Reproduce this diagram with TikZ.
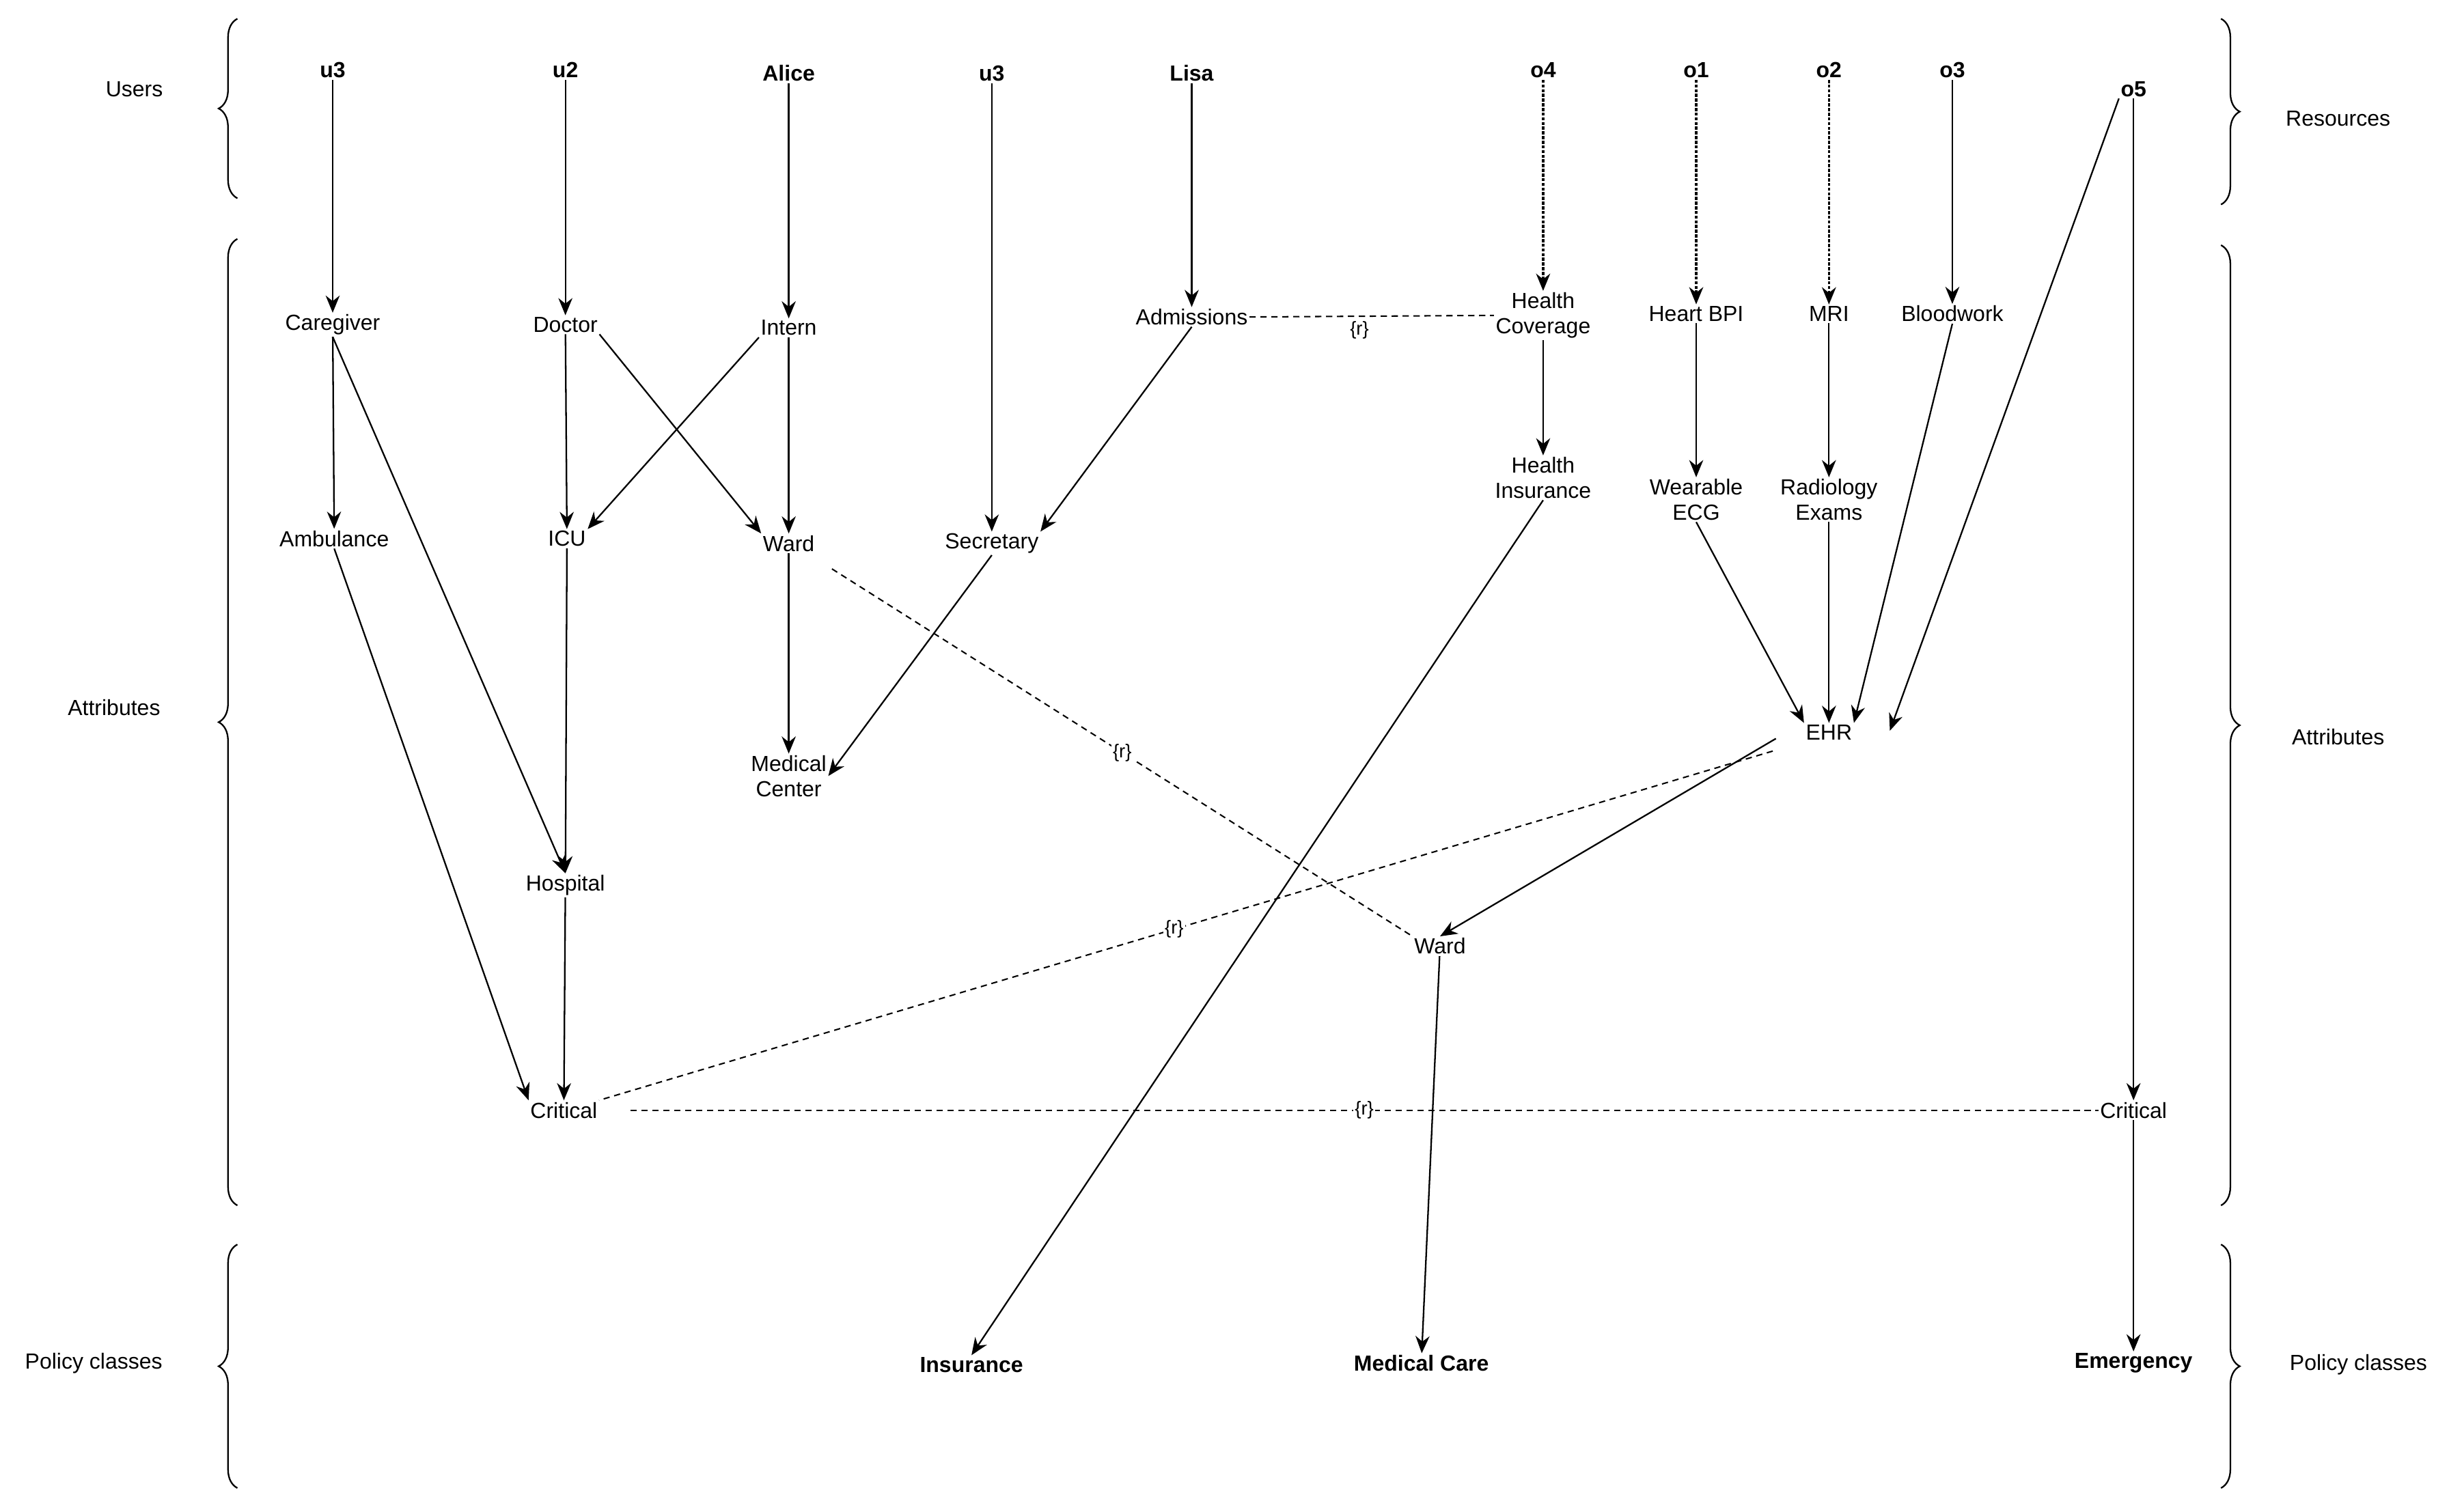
\documentclass[tikz,border=0pt]{standalone}
\usepackage{fontspec}
\setmainfont{Liberation Sans}
\usetikzlibrary{arrows.meta,decorations.pathreplacing}
\begin{document}
\begin{tikzpicture}[x=1pt,y=-1pt,
  every node/.style={font=\fontsize{14}{16}\selectfont, align=center, inner sep=1pt},
  b/.style={font=\fontsize{14}{16}\selectfont\bfseries},
  ar/.style={draw, line width=1pt, -{Stealth[length=11pt,width=9pt]}},
  dar/.style={ar, line width=1.4pt, dash pattern=on 2pt off 1pt},
  dl/.style={draw, line width=0.9pt, dash pattern=on 4pt off 3pt},
  r/.style={font=\fontsize{12}{14}\selectfont, fill=white, inner sep=1pt},
  br/.style={draw, line width=1pt, decorate, decoration={brace, amplitude=12pt}}]
\useasboundingbox (0,0) rectangle (1568,968);
% braces
\draw[br] (152,127) -- (152,12);
\draw[br] (152,772) -- (152,153);
\draw[br] (152,953) -- (152,797);
\draw[br] (1422,12) -- (1422,131);
\draw[br] (1422,157) -- (1422,772);
\draw[br] (1422,797) -- (1422,953);
\node (lu) at (86,57) {Users};
\node (la) at (73,453) {Attributes};
\node (lp) at (60,873) {Policy classes};
\node (rr) at (1497,76) {Resources};
\node (ra) at (1497,472) {Attributes};
\node (rp) at (1510,874) {Policy classes};
% users/resources
\node[b] (u3a) at (213,45) {u3};
\node[b] (u2) at (362,45) {u2};
\node[b] (alice) at (505,47) {Alice};
\node[b] (u3b) at (635,47) {u3};
\node[b] (lisa) at (763,47) {Lisa};
\node[b] (o4) at (988,45) {o4};
\node[b] (o1) at (1086,45) {o1};
\node[b] (o2) at (1171,45) {o2};
\node[b] (o3) at (1250,45) {o3};
\node[b] (o5) at (1366,57) {o5};
% attributes
\node (care) at (213,208) {Caregiver};
\node (doc) at (362,208) {Doctor};
\node (intern) at (505,210) {Intern};
\node (adm) at (763,203) {Admissions};
\node (hcov) at (988,202) {Health\\Coverage};
\node (hbpi) at (1086,201) {Heart BPI};
\node (mri) at (1171,201) {MRI};
\node (blood) at (1250,201) {Bloodwork};
\node (amb) at (214,345) {Ambulance};
\node (icu) at (363,345) {ICU};
\node (ward1) at (505,348) {Ward};
\node (sec) at (635,348) {Secretary};
\node (hins) at (988,306) {Health\\Insurance};
\node (ecg) at (1086,320) {Wearable\\ECG};
\node (rad) at (1171,320) {Radiology\\Exams};
\node (medc) at (505,497) {Medical\\Center};
\node (ehr) at (1171,469) {EHR};
\node (hosp) at (362,567) {Hospital};
\node (ward2) at (922,606) {Ward};
\node (crit1) at (361,711) {Critical};
\node (crit2) at (1366,711) {Critical};
\node[b] (ins) at (622,874) {Insurance};
\node[b] (mc) at (910,873) {Medical Care};
\node[b] (em) at (1366,873) {Emergency};
% dashed relations
\draw[dl] (adm.east) -- (hcov.west) node[r,pos=0.45,below=2pt] {\{r\}};
\draw[dl] (ward1.south east)++(10,10) -- (ward2.north west) node[r,pos=0.5] {\{r\}};
\draw[dl] (ehr.south west)++(-20,6) -- (crit1.north east) node[r,pos=0.51] {\{r\}};
\draw[dl] (crit1.east)++(20,0) -- (crit2.west) node[r,pos=0.5] {\{r\}};
% arrows
\draw[ar] (u3a) -- (care);
\draw[ar] (u2) -- (doc);
\draw[ar] (alice) -- (intern);
\draw[ar] (u3b) -- (sec);
\draw[ar] (lisa) -- (adm);
\draw[dar] (o4) -- (hcov);
\draw[dar] (o1) -- (hbpi);
\draw[dar] (o2) -- (mri);
\draw[ar] (o3) -- (blood);
\draw[ar] (o5.south west) -- (1210,468);
\draw[ar] (o5) -- (crit2);
\draw[ar] (care) -- (amb);
\draw[ar] (care.south) -- (hosp.north);
\draw[ar] (doc) -- (icu);
\draw[ar] (doc.south east) -- (ward1.north west);
\draw[ar] (intern.south west) -- (icu.north east);
\draw[ar] (intern) -- (ward1);
\draw[ar] (adm.south) -- (sec.north east);
\draw[ar] (amb.south) -- (crit1.north west);
\draw[ar] (icu) -- (hosp);
\draw[ar] (hosp) -- (crit1);
\draw[ar] (ward1) -- (medc);
\draw[ar] (sec.south) -- (medc.east);
\draw[ar] (hcov) -- (hins);
\draw[ar] (hins.south) -- (ins.north);
\draw[ar] (hbpi) -- (ecg);
\draw[ar] (mri) -- (rad);
\draw[ar] (ecg.south) -- (ehr.north west);
\draw[ar] (rad) -- (ehr);
\draw[ar] (blood.south) -- (ehr.north east);
\draw[ar] (ehr.south west)++(-18,-2) -- (ward2.north);
\draw[ar] (ward2) -- (mc);
\draw[ar] (crit2) -- (em);
\end{tikzpicture}
\end{document}
